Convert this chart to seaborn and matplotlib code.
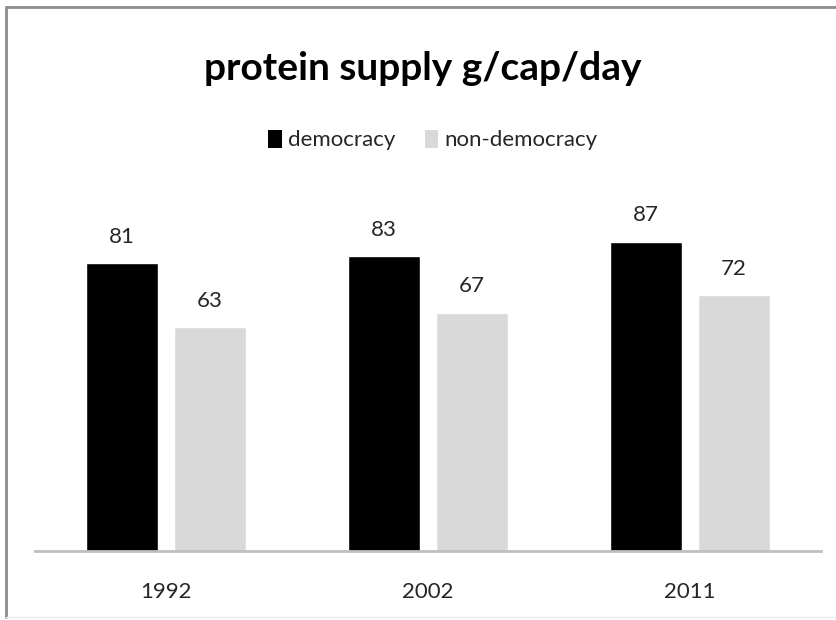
import matplotlib
matplotlib.use("Agg")
import matplotlib.pyplot as plt
from matplotlib.lines import Line2D
from matplotlib.patches import Patch
import seaborn as sns
import pandas as pd

years = ["1992", "2002", "2011"]
democracy = [81, 83, 87]
non_democracy = [63, 67, 72]
series_names = ["democracy", "non-democracy"]
colors = ["#000000", "#d9d9d9"]

df = pd.DataFrame({
    "year": years * 2,
    "value": democracy + non_democracy,
    "regime": [series_names[0]] * 3 + [series_names[1]] * 3,
})

sns.set_theme(style="white")
plt.rcParams["font.family"] = ["Lato", "DejaVu Sans"]

fig = plt.figure(figsize=(8.37, 6.2), dpi=100)
ax = fig.add_axes([35 / 837, 1 - 551 / 620, 786 / 837, 355 / 620])

sns.barplot(data=df, x="year", y="value", hue="regime", order=years,
            hue_order=series_names, palette=colors, width=0.672, gap=0.19,
            saturation=1, legend=False, ax=ax)

for cont in ax.containers:
    ax.bar_label(cont, padding=12, fontsize=16, color="#262626")

ax.set_ylim(0, 100)
ax.set_xlabel("")
ax.set_ylabel("")
ax.set_yticks([])
for side in ["left", "right", "top"]:
    ax.spines[side].set_visible(False)
ax.spines["bottom"].set_color("#bfbfbf")
ax.spines["bottom"].set_linewidth(2)
ax.tick_params(axis="x", length=0, pad=22, labelsize=16, labelcolor="#262626")

fig.text(0.505, 1 - 69 / 620, "protein supply g/cap/day", ha="center", va="center",
         fontsize=28, fontweight="bold", color="#000000")

handles = [Patch(facecolor=c, edgecolor="none") for c in colors]
fig.legend(handles, series_names, loc="center", bbox_to_anchor=(433 / 837, 1 - 140 / 620),
           ncol=2, frameon=False, fontsize=16, handlelength=0.6, handleheight=0.9,
           handletextpad=0.3, columnspacing=1.3, labelcolor="#262626")

# outer frame
fig.add_artist(Line2D([6 / 837, 1], [1 - 7 / 620, 1 - 7 / 620], color="#8c8c8c", lw=2,
                      transform=fig.transFigure))
fig.add_artist(Line2D([6 / 837, 6 / 837], [1 - 7 / 620, 1 - 617 / 620], color="#8c8c8c", lw=2,
                      transform=fig.transFigure))
fig.add_artist(Line2D([6 / 837, 1], [1 - 617 / 620, 1 - 617 / 620], color="#ececec", lw=1,
                      transform=fig.transFigure))

fig.savefig("out.png", dpi=100, facecolor="white")
